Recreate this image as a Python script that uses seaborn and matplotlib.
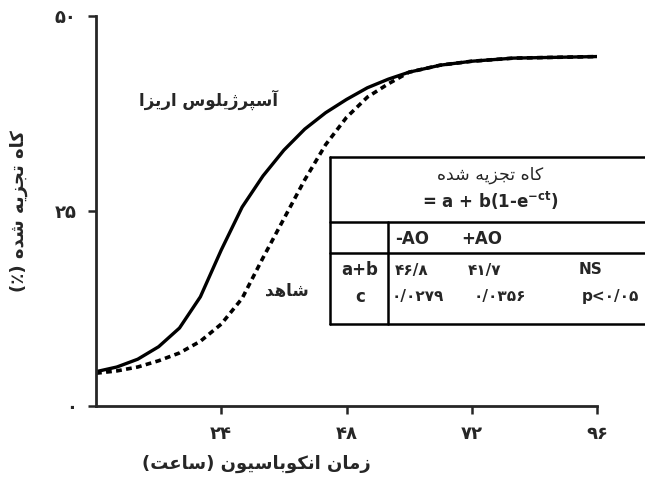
import matplotlib
matplotlib.use('Agg')
import matplotlib.pyplot as plt
import numpy as np
import pandas as pd
import seaborn as sns

# ---- data ----
hours = [0, 4, 8, 12, 16, 20, 24, 28, 32, 36, 40, 44, 48, 52, 56, 60, 66, 72, 80, 88, 96]
oryzae = [4.4, 5.0, 6.0, 7.6, 10.0, 14.0, 20.0, 25.5, 29.5, 32.8, 35.5, 37.6, 39.3,
          40.8, 41.9, 42.8, 43.7, 44.2, 44.6, 44.7, 44.8]
control = [4.2, 4.5, 5.0, 5.8, 6.8, 8.3, 10.5, 13.8, 19.0, 24.0, 29.0, 33.5, 37.0,
           39.6, 41.3, 42.8, 43.7, 44.2, 44.6, 44.7, 44.8]
x_ticks = [24, 48, 72, 96]
x_tick_labels = ['۲۴', '۴۸', '۷۲', '۹۶']
y_ticks = [0, 25, 50]
y_tick_labels = ['۰', '۲۵', '۵۰']

col_heads = ['-AO', '+AO']
row_heads = ['a+b', 'c']
row_ab = ['۴۶/۸', '۴۱/۷', 'NS']
row_c = ['۰/۰۲۷۹', '۰/۰۳۵۶', 'p<۰/۰۵']

# ---- tiny persian shaper (matplotlib has no bidi / joining) ----
FORMS = {  # isolated, final, initial, medial
    'ا': (0xFE8D, 0xFE8E), 'آ': (0xFE81, 0xFE82), 'د': (0xFEA9, 0xFEAA),
    'ر': (0xFEAD, 0xFEAE), 'ز': (0xFEAF, 0xFEB0), 'ژ': (0xFB8A, 0xFB8B),
    'و': (0xFEED, 0xFEEE),
    'ب': (0xFE8F, 0xFE90, 0xFE91, 0xFE92), 'پ': (0xFB56, 0xFB57, 0xFB58, 0xFB59),
    'ت': (0xFE95, 0xFE96, 0xFE97, 0xFE98), 'ج': (0xFE9D, 0xFE9E, 0xFE9F, 0xFEA0),
    'س': (0xFEB1, 0xFEB2, 0xFEB3, 0xFEB4), 'ش': (0xFEB5, 0xFEB6, 0xFEB7, 0xFEB8),
    'ع': (0xFEC9, 0xFECA, 0xFECB, 0xFECC), 'ک': (0xFB8E, 0xFB8F, 0xFB90, 0xFB91),
    'ل': (0xFEDD, 0xFEDE, 0xFEDF, 0xFEE0), 'م': (0xFEE1, 0xFEE2, 0xFEE3, 0xFEE4),
    'ن': (0xFEE5, 0xFEE6, 0xFEE7, 0xFEE8), 'ه': (0xFEE9, 0xFEEA, 0xFEEB, 0xFEEC),
    'ی': (0xFBFC, 0xFBFD, 0xFBFE, 0xFBFF),
}


def fa(s):
    out = []
    for i, c in enumerate(s):
        if c not in FORMS:
            out.append(c)
            continue
        prev = s[i - 1] if i > 0 else ''
        nxt = s[i + 1] if i + 1 < len(s) else ''
        jp = prev in FORMS and len(FORMS[prev]) == 4
        jn = len(FORMS[c]) == 4 and nxt in FORMS
        f = FORMS[c]
        if jp and jn:
            out.append(chr(f[3]))
        elif jp:
            out.append(chr(f[1]))
        elif jn:
            out.append(chr(f[2]))
        else:
            out.append(chr(f[0]))
    vis = ''.join(reversed(out))
    return vis.translate(str.maketrans('()', ')('))


sns.set_style('ticks')
plt.rcParams['font.family'] = ['DejaVu Sans']
plt.rcParams['mathtext.default'] = 'bf'

df = pd.DataFrame({
    'hour': hours * 2,
    'value': oryzae + control,
    'group': ['oryzae'] * len(hours) + ['control'] * len(hours),
})

fig = plt.figure(figsize=(6.45, 4.79), dpi=100)
ax = fig.add_axes([96 / 645, 1 - 406 / 479, (597 - 96) / 645, (406 - 16) / 479])

sns.lineplot(data=df[df.group == 'oryzae'], x='hour', y='value', color='black',
             lw=2.4, ax=ax, legend=False)
sns.lineplot(data=df[df.group == 'control'], x='hour', y='value', color='black',
             lw=2.6, ax=ax, legend=False, linestyle=(0, (1.6, 1.2)))

ax.set_xlim(0, 96)
ax.set_ylim(0, 50)
ax.set_xticks(x_ticks)
ax.set_xticklabels(x_tick_labels, fontsize=13, fontweight='bold')
ax.set_yticks(y_ticks)
ax.set_yticklabels(y_tick_labels, fontsize=13, fontweight='bold')
ax.tick_params(width=1.8, length=6)
ax.tick_params(axis='x', pad=8)
ax.tick_params(axis='y', pad=8)
for side in ['top', 'right']:
    ax.spines[side].set_visible(False)
for side in ['left', 'bottom']:
    ax.spines[side].set_linewidth(2)

ax.set_xlabel(fa('زمان انکوباسیون (ساعت)'), fontsize=13, fontweight='bold')
ax.xaxis.set_label_coords(0.32, -0.125)
ax.set_ylabel(fa('کاه تجزیه شده (٪)'), fontsize=13, fontweight='bold')
ax.yaxis.set_label_coords(-0.135, 0.5)

# DejaVu's oblique faces have no arabic glyphs, so this label stays upright
ax.text(21.5, 39.3, fa('آسپرژیلوس اریزا'), fontsize=12, fontweight='bold',
        ha='center', va='center')
ax.text(36.5, 14.8, fa('شاهد'), fontsize=12, fontweight='bold', ha='center', va='center')


# ---- inset table drawn in figure pixels ----
def fx(px):
    return px / 645


def fy(py):
    return 1 - py / 479


def hline(y, x0, x1):
    fig.add_artist(plt.Line2D([fx(x0), fx(x1)], [fy(y), fy(y)], color='black', lw=1.8))


def vline(x, y0, y1):
    fig.add_artist(plt.Line2D([fx(x), fx(x)], [fy(y0), fy(y1)], color='black', lw=1.8))


hline(157, 330, 645)
hline(222, 330, 645)
hline(253, 330, 645)
hline(324, 330, 645)
vline(330, 157, 324)
vline(388, 222, 324)

fig.text(fx(490), fy(175), fa('کاه تجزیه شده'), fontsize=12.5, ha='center', va='center')
fig.text(fx(490), fy(201), r'= a + b(1-e$^{-ct}$)', fontsize=12, fontweight='bold',
         ha='center', va='center')
for txt, px in zip(col_heads, [412, 482]):
    fig.text(fx(px), fy(239), txt, fontsize=12, fontweight='bold', ha='center', va='center')
for txt, py in zip(row_heads, [270, 297]):
    fig.text(fx(360), fy(py), txt, fontsize=12, fontweight='bold', ha='center', va='center')
for txt, px in zip(row_ab, [412, 485, 590]):
    fig.text(fx(px), fy(270), txt, fontsize=11, fontweight='bold', ha='center', va='center')
for txt, px in zip(row_c, [418, 500, 610]):
    fig.text(fx(px), fy(297), txt, fontsize=11, fontweight='bold', ha='center', va='center')

fig.savefig('out.png', dpi=100)
